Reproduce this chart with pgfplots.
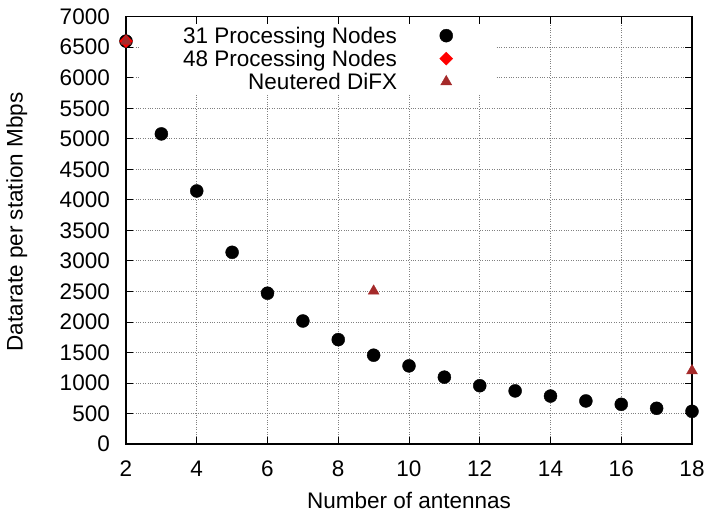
\documentclass[border=0pt]{standalone}
\usepackage{fontspec}
\setmainfont{Liberation Sans}
\usepackage{pgfplots}
\pgfplotsset{compat=1.18}
\definecolor{gpbrown}{RGB}{165,42,42}
\newcommand{\gpfont}{\fontsize{22.5bp}{27bp}\selectfont}
\pgfplotsset{mylegend/.style={legend image code/.code={\path (0bp,0bp) (55bp,0bp); \draw[##1] plot coordinates {(49bp,0bp)};}}}
\begin{document}
\begin{tikzpicture}
\begin{axis}[
  scale only axis, width=566bp, height=427.3bp,
  at={(0,0)}, anchor=south west,
  xmin=2, xmax=18, ymin=0, ymax=7000,
  xtick={2,4,...,18}, ytick={0,500,...,7000},
  /pgf/number format/assume math mode=true,
  /pgf/number format/1000 sep={},
  tick label style={font=\gpfont},
  xticklabel style={inner sep=0pt, anchor=north, yshift=-17bp},
  yticklabel style={inner sep=0pt, anchor=east, xshift=-16bp},
  tick align=inside, major tick length=7bp,
  tick style={black, line width=0.8bp},
  axis line style={black, line width=1.1bp},
  grid=major, grid style={dotted, gray, line width=0.8bp},
  xlabel={Number of antennas},
  ylabel={Datarate per station Mbps},
  label style={font=\gpfont},
  xlabel style={at={(axis description cs:0.5,-0.1498)}, anchor=base},
  ylabel style={at={(axis description cs:-0.1825,0.5195)}, anchor=base, rotate=0},
  clip=false,
  legend cell align=right, legend plot pos=right,
  legend style={draw=none, fill=white, font=\gpfont,
    at={(axis description cs:0.0247,0.983)}, anchor=north west,
    inner xsep=43bp, inner ysep=0pt, row sep=0pt,
    nodes={inner sep=0pt, text height=19bp, text depth=4bp}},
]
\addplot[only marks, mark=*, mark size=6.5bp, black, mylegend] coordinates {
(2,6600) (3,5080) (4,4145) (5,3140) (6,2470) (7,2015) (8,1710) (9,1455)
(10,1280) (11,1095) (12,955) (13,870) (14,785) (15,705) (16,650) (17,585) (18,535)
};
\addlegendentry{31 Processing Nodes}
\addplot[only marks, mark=square*, mark options={rotate=45}, mark size=4.6bp, red, mylegend] coordinates {
(2,6600)
};
\addlegendentry{48 Processing Nodes}
\addplot[only marks, mark=triangle*, mark size=6.3bp, gpbrown, mylegend] coordinates {
(2,6600) (9,2505) (18,1200)
};
\addlegendentry{Neutered DiFX}
\end{axis}
\pgfresetboundingbox
\path (-126bp,-68bp) rectangle (583bp,444bp);
\end{tikzpicture}
\end{document}
